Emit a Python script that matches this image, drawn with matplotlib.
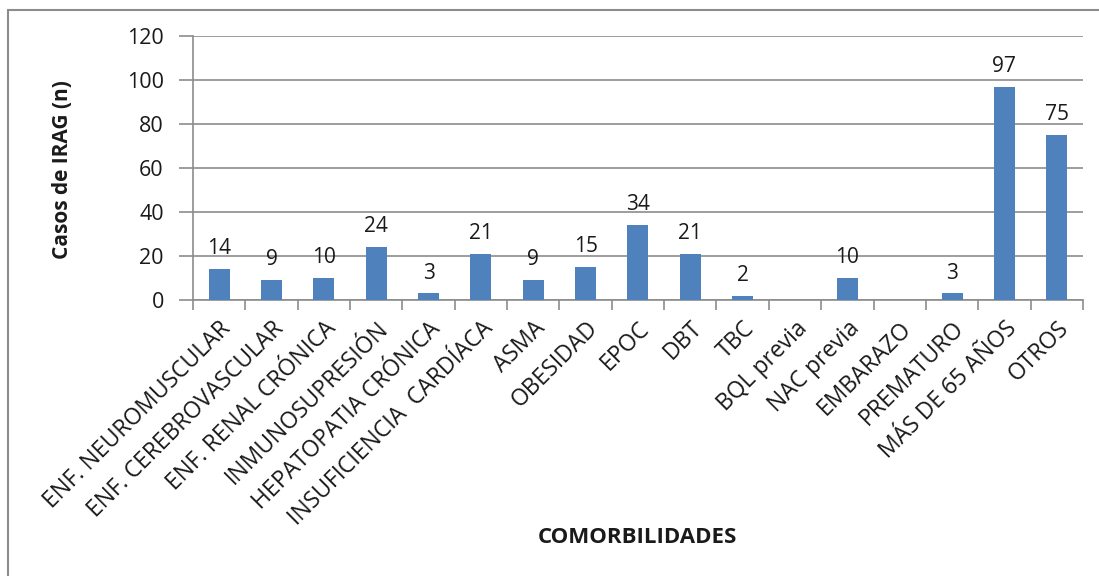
import matplotlib
matplotlib.use("Agg")
import matplotlib.pyplot as plt
import numpy as np
from matplotlib.patches import Rectangle

plt.rcParams["font.family"] = ["Open Sans", "DejaVu Sans"]

comorbilidades = ["ENF. NEUROMUSCULAR", "ENF. CEREBROVASCULAR", "ENF. RENAL CRÓNICA",
                  "INMUNOSUPRESIÓN", "HEPATOPATIA CRÓNICA", "INSUFICIENCIA  CARDÍACA",
                  "ASMA", "OBESIDAD", "EPOC", "DBT", "TBC", "BQL previa", "NAC previa",
                  "EMBARAZO", "PREMATURO", "MÁS DE 65 AÑOS", "OTROS"]
casos = [14, 9, 10, 24, 3, 21, 9, 15, 34, 21, 2, np.nan, 10, np.nan, 3, 97, 75]
y_ticks = [0, 20, 40, 60, 80, 100, 120]

grid_color = "#8c8c8c"
bar_color = "#4f81bd"
text_color = "#1a1a1a"

fig = plt.figure(figsize=(10.99, 5.76), dpi=100)
ax = fig.add_axes([0.1756, 0.4792, 0.8098, 0.4583])

x = np.arange(len(comorbilidades))
vals = np.array(casos, dtype=float)
ax.bar(x, np.nan_to_num(vals), width=0.4, color=bar_color, zorder=3)

for xi, v in zip(x, vals):
    if not np.isnan(v):
        ax.annotate(f"{int(v)}", (xi, v), xytext=(0, 7), textcoords="offset points",
                    ha="center", va="bottom", fontsize=15, color=text_color)

ax.set_xlim(-0.5, len(comorbilidades) - 0.5)
ax.set_ylim(0, 120)
ax.set_yticks(y_ticks)
ax.set_yticklabels([str(t) for t in y_ticks], fontsize=15.5, color=text_color)
ax.yaxis.grid(True, color=grid_color, linewidth=1.2, zorder=0)
ax.set_axisbelow(True)

# category boundaries carry the ticks, labels sit on the centres
ax.set_xticks(np.arange(-0.5, len(comorbilidades)), minor=False)
ax.set_xticklabels([])
ax.set_xticks(x, minor=True)
ax.set_xticklabels(comorbilidades, minor=True, rotation=45, ha="right",
                   rotation_mode="anchor", fontsize=16.5, color=text_color)
ax.tick_params(axis="x", which="major", length=7, color=grid_color, width=1.2)
ax.tick_params(axis="x", which="minor", length=0, pad=12)
ax.tick_params(axis="y", length=10, color=grid_color, width=1.2, pad=11)

for side in ["top", "right"]:
    ax.spines[side].set_visible(False)
for side in ["left", "bottom"]:
    ax.spines[side].set_color(grid_color)
    ax.spines[side].set_linewidth(1.2)

fig.text(0.057, 0.705, "Casos de IRAG (n)", rotation=90, ha="center", va="center",
         fontsize=15, fontweight="bold", color=text_color)
fig.text(0.58, 0.066, "COMORBILIDADES", ha="center", va="center",
         fontsize=16, fontweight="bold", color=text_color)

# chart frame
fig.patches.append(Rectangle((8 / 1099, -0.1), 1.2, (576 - 10) / 576 + 0.1,
                             transform=fig.transFigure, fill=False,
                             edgecolor="#8c8c8c", linewidth=1.5))

fig.savefig("out.png", dpi=100)
